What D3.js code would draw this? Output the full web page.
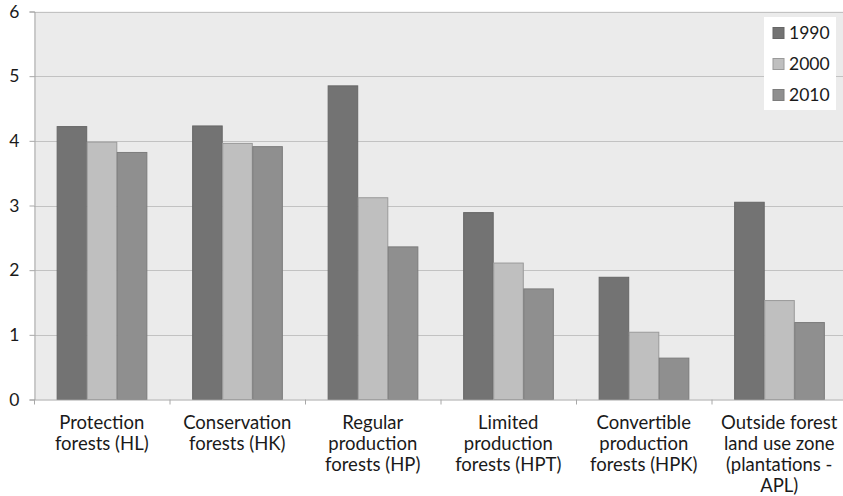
<!DOCTYPE html>
<html>
<head>
<meta charset="utf-8">
<script src="https://cdn.jsdelivr.net/npm/d3@7"></script>
<style>
  html, body { margin: 0; padding: 0; background: #fff; }
  svg { display: block; }
  text { font-family: Lato, "Open Sans", sans-serif; fill: #1a1a1a; }
</style>
</head>
<body>
<svg id="chart" width="843" height="496"></svg>
<script>
// Forest categories (multi-line labels) and values per year
const categories = [
  ["Protection", "forests (HL)"],
  ["Conservation", "forests (HK)"],
  ["Regular", "production", "forests (HP)"],
  ["Limited", "production", "forests (HPT)"],
  ["Convertible", "production", "forests (HPK)"],
  ["Outside forest", "land use zone", "(plantations -", "APL)"]
];
const years = ["1990", "2000", "2010"];
const values1990 = [4.22, 4.23, 4.85, 2.89, 1.89, 3.05];
const values2000 = [3.98, 3.96, 3.12, 2.11, 1.04, 1.53];
const values2010 = [3.82, 3.91, 2.36, 1.71, 0.64, 1.19];
const yTicks = [0, 1, 2, 3, 4, 5, 6];

const series = [values1990, values2000, values2010];
const fills = ["#737373", "#bfbfbf", "#8f8f8f"];
const strokes = ["#666666", "#9a9a9a", "#7c7c7c"];

const svg = d3.select("#chart");
const margin = { left: 34, right: -4, top: 11.5, bottom: 96.5 };
const W = 843, H = 496;
const x0 = margin.left, x1 = W - margin.right;
const yTop = margin.top, yBot = H - margin.bottom;

const x = d3.scaleBand().domain(d3.range(categories.length)).range([x0, x1]).paddingInner(0).paddingOuter(0);
const xs = d3.scaleBand().domain(d3.range(years.length)).range([0, x.bandwidth()]).paddingOuter(0.5 * 45.5 / 30.2).paddingInner(0);
const y = d3.scaleLinear().domain([0, 6]).range([yBot, yTop]);

// plot background
svg.append("rect").attr("x", x0).attr("y", yTop).attr("width", x1 - x0).attr("height", yBot - yTop).attr("fill", "#ebebeb");

// horizontal gridlines
svg.append("g").selectAll("line").data(yTicks.filter(d => d > 0)).join("line")
  .attr("x1", x0).attr("x2", x1)
  .attr("y1", d => Math.round(y(d)) + 0.5).attr("y2", d => Math.round(y(d)) + 0.5)
  .attr("stroke", "#c2c2c2").attr("stroke-width", 1.2);

// bars
const groups = svg.append("g").selectAll("g").data(categories.map((c, i) => i)).join("g")
  .attr("transform", i => `translate(${x(i)},0)`);
groups.selectAll("rect").data(i => series.map((s, k) => ({ k, v: s[i] }))).join("rect")
  .attr("x", d => xs(d.k) + 0.5)
  .attr("width", xs.bandwidth() - 0.5)
  .attr("y", d => y(d.v))
  .attr("height", d => y(0) - y(d.v))
  .attr("fill", d => fills[d.k])
  .attr("stroke", d => strokes[d.k])
  .attr("stroke-width", 1);

// y axis
const yAxis = d3.axisLeft(y).tickValues(yTicks).tickSize(5).tickPadding(10).tickFormat(d3.format("d"));
const gy = svg.append("g").attr("transform", `translate(${x0 + 0.5},0)`).call(yAxis);
gy.select(".domain").attr("stroke", "#a8a8a8");
gy.selectAll(".tick line").attr("stroke", "#a8a8a8");
gy.selectAll(".tick text").attr("font-size", 17.5).attr("font-family", "Lato, sans-serif").attr("fill", "#1a1a1a");

// x axis baseline with category boundary ticks
svg.append("line").attr("x1", x0).attr("x2", x1).attr("y1", yBot + 0.5).attr("y2", yBot + 0.5).attr("stroke", "#a8a8a8");
svg.append("g").selectAll("line").data(d3.range(categories.length + 1)).join("line")
  .attr("x1", i => (i < categories.length ? x(i) : x1) + 0.5)
  .attr("x2", i => (i < categories.length ? x(i) : x1) + 0.5)
  .attr("y1", yBot).attr("y2", yBot + 5)
  .attr("stroke", "#a8a8a8");

// category labels
const lab = svg.append("g").selectAll("text").data(categories.map((c, i) => ({ c, i }))).join("text")
  .attr("text-anchor", "middle")
  .attr("font-size", 18.5);
lab.selectAll("tspan").data(d => d.c.map((t, j) => ({ t, j, i: d.i }))).join("tspan")
  .attr("x", d => x(d.i) + x.bandwidth() / 2)
  .attr("y", d => 429 + d.j * 21)
  .text(d => d.t);

// legend
const lg = svg.append("g").attr("transform", "translate(764,17)");
lg.append("rect").attr("width", 72).attr("height", 93).attr("fill", "#ffffff");
const items = lg.selectAll("g").data(years).join("g")
  .attr("transform", (d, i) => `translate(9,${16 + i * 31})`);
items.append("rect").attr("x", 0).attr("y", -5.5).attr("width", 11).attr("height", 11)
  .attr("fill", (d, i) => fills[i]).attr("stroke", (d, i) => strokes[i]);
items.append("text").attr("x", 16).attr("y", 6).attr("font-size", 17.5).text(d => d);
</script>
</body>
</html>
